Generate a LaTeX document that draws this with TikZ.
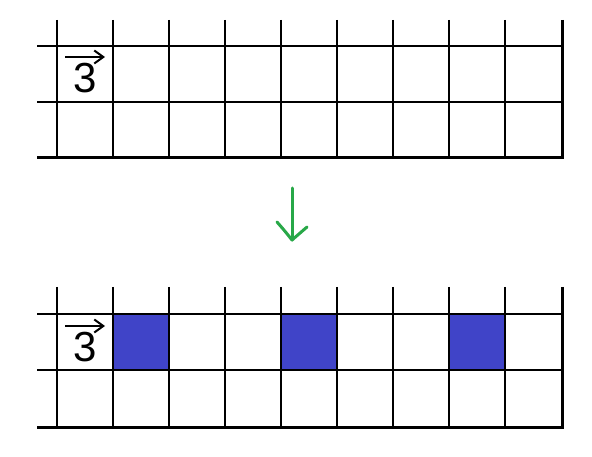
\documentclass[tikz,border=0pt]{standalone}
\usepackage{fontspec}
\setmainfont{Liberation Sans}
\usetikzlibrary{arrows.meta}
\definecolor{cellblue}{RGB}{64,68,200}
\definecolor{arrgreen}{RGB}{40,168,72}
\tikzset{
  gridthin/.style={line width=1.3pt, black},
  gridthick/.style={line width=3pt, black},
  veclabel/.style={inner sep=0pt, font=\fontsize{42}{42}\selectfont},
  vecarrow/.style={line width=2.2pt, -{Straight Barb[length=9pt,width=13pt,line width=2pt]}},
  greenarrow/.style={line width=3pt, arrgreen, line cap=round, line join=round}
}
\begin{document}
\begin{tikzpicture}[x=1pt,y=-1pt]
\useasboundingbox (0,0) rectangle (592,457);
\fill[white] (0,0) rectangle (592,457);
% ---- top grid ----
\foreach \yy in {46,102}{\draw[gridthin] (37,\yy) -- (562,\yy);}
\foreach \xx in {57,113,...,505}{\draw[gridthin] (\xx,20) -- (\xx,158);}
\draw[gridthick] (37,158) -- (562,158);
\draw[gridthick] (562,20) -- (562,159.5);
\node[veclabel] (v1) at (85,78) {3};
\draw[vecarrow] (65,57) -- (105,57);
% ---- green arrow ----
\coordinate (gtop) at (292,188);
\coordinate (gtip) at (292,240);
\draw[greenarrow] (gtop) -- (gtip);
\draw[greenarrow] (277,222) .. controls (284,230) .. (gtip) -- (307,227);
% ---- bottom grid ----
\foreach \xx in {113,281,449}{\fill[cellblue] (\xx,314) rectangle ++(56,56);}
\foreach \yy in {314,370}{\draw[gridthin] (37,\yy) -- (562,\yy);}
\foreach \xx in {57,113,...,505}{\draw[gridthin] (\xx,287) -- (\xx,427);}
\draw[gridthick] (37,427) -- (562,427);
\draw[gridthick] (562,287) -- (562,428.5);
\node[veclabel] (v2) at (85,347) {3};
\draw[vecarrow] (65,326) -- (105,326);
\end{tikzpicture}
\end{document}
